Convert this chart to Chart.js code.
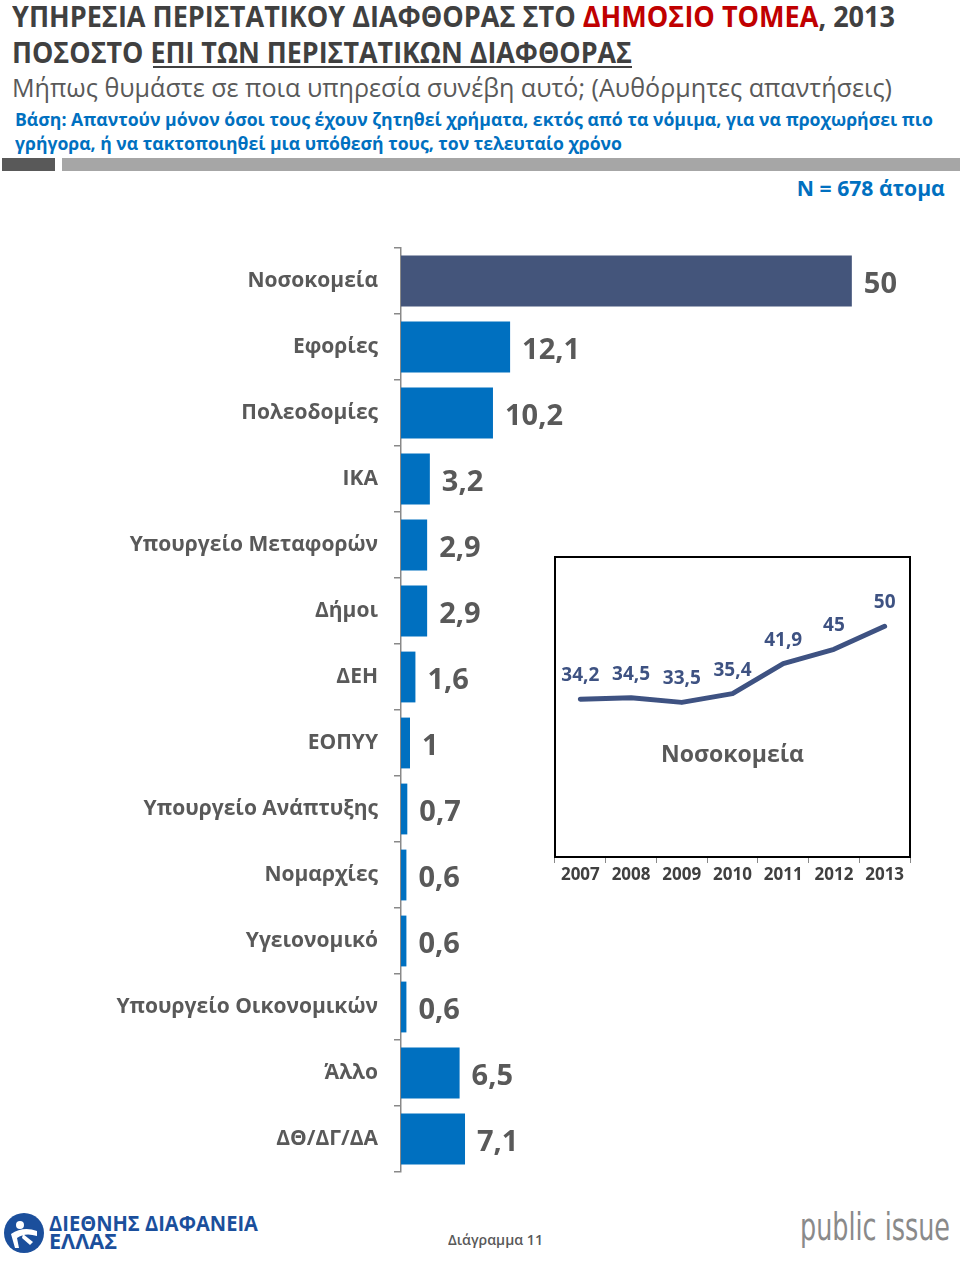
<!DOCTYPE html>
<html><head><meta charset="utf-8">
<script src="https://cdn.jsdelivr.net/npm/chart.js@4"></script>
<style>
body{margin:0;width:960px;height:1266px;position:relative;background:#fff;font-family:"Open Sans",sans-serif;overflow:hidden}
.t{position:absolute;white-space:nowrap;transform-origin:0 0;line-height:1}
.r{transform-origin:100% 0}
canvas{position:absolute}
</style></head><body>
<div class="t fit" data-w="883" style="left:12px;top:1px;font-size:29px;font-weight:700;color:#404040">ΥΠΗΡΕΣΙΑ ΠΕΡΙΣΤΑΤΙΚΟΥ ΔΙΑΦΘΟΡΑΣ ΣΤΟ <span style="color:#C00000">ΔΗΜΟΣΙΟ ΤΟΜΕΑ</span>, 2013</div>
<div class="t fit" data-w="620" style="left:12px;top:37px;font-size:29px;font-weight:700;color:#404040">ΠΟΣΟΣΤΟ ΕΠΙ ΤΩΝ ΠΕΡΙΣΤΑΤΙΚΩΝ ΔΙΑΦΘΟΡΑΣ</div>
<div style="position:absolute;left:153px;top:66px;width:479px;height:2px;background:#404040"></div>
<div class="t fit" data-w="880" style="left:12px;top:74px;font-size:26px;font-weight:400;color:#595959">Μήπως θυμάστε σε ποια υπηρεσία συνέβη αυτό; (Αυθόρμητες απαντήσεις)</div>
<div class="t fit" data-w="918" style="left:15px;top:111px;font-size:17px;font-weight:700;color:#0070C0">Βάση: Απαντούν μόνον όσοι τους έχουν ζητηθεί χρήματα, εκτός από τα νόμιμα, για να προχωρήσει πιο</div>
<div class="t fit" data-w="607" style="left:15px;top:135px;font-size:17px;font-weight:700;color:#0070C0">γρήγορα, ή να τακτοποιηθεί μια υπόθεσή τους, τον τελευταίο χρόνο</div>
<div style="position:absolute;left:2px;top:158px;width:53px;height:13px;background:#595959"></div>
<div style="position:absolute;left:62px;top:158px;width:898px;height:13px;background:#A6A6A6"></div>
<div class="t fit r" data-w="148" style="right:15px;top:178px;font-size:21px;font-weight:700;color:#0070C0">N = 678 άτομα</div>

<canvas id="bars" width="960" height="940" style="left:0;top:240px"></canvas>
<canvas id="line" width="400" height="350" style="left:540px;top:540px"></canvas>

<svg style="position:absolute;left:3px;top:1212px" width="42" height="42" viewBox="0 0 42 42">
<circle cx="21" cy="21" r="20" fill="#1B4F9C"/>
<circle cx="17" cy="13" r="4" fill="#fff"/>
<path d="M8 22 Q20 14 34 19 L34 24 Q22 20 14 26 L16 36 L12 36 Z" fill="#fff"/>
<path d="M20 22 L30 30 L27 33 L19 26 Z" fill="#fff"/>
</svg>
<div class="t fit" data-w="209" style="left:49px;top:1213px;font-size:21px;font-weight:700;color:#1B4F9C">ΔΙΕΘΝΗΣ ΔΙΑΦΑΝΕΙΑ</div>
<div class="t fit" data-w="68" style="left:49px;top:1231px;font-size:21px;font-weight:700;color:#1B4F9C">ΕΛΛΑΣ</div>
<div class="t fit" data-w="95" style="left:448px;top:1233px;font-size:14px;font-weight:600;color:#595959">Διάγραμμα 11</div>
<div class="t fit" data-w="150" style="left:800px;top:1209px;font-size:37px;font-weight:400;color:#8a8a8a;font-family:'Liberation Sans Narrow','DejaVu Sans Condensed',sans-serif">public issue</div>

<script>
// ---- Data ----
const categories = ["Νοσοκομεία","Εφορίες","Πολεοδομίες","ΙΚΑ","Υπουργείο Μεταφορών","Δήμοι","ΔΕΗ","ΕΟΠΥΥ","Υπουργείο Ανάπτυξης","Νομαρχίες","Υγειονομικό","Υπουργείο Οικονομικών","Άλλο","ΔΘ/ΔΓ/ΔΑ"];
const values = [50,12.1,10.2,3.2,2.9,2.9,1.6,1,0.7,0.6,0.6,0.6,6.5,7.1];
const years = ["2007","2008","2009","2010","2011","2012","2013"];
const hospitalTrend = [34.2,34.5,33.5,35.4,41.9,45,50];
const insetTitle = "Νοσοκομεία";

const fmt = v => String(v).replace('.', ',');

// fit header texts
document.querySelectorAll('.fit').forEach(el => {
  const w = el.getBoundingClientRect().width;
  const s = (+el.dataset.w) / w;
  el.style.transform = 'scaleX(' + s + ')';
});

const barLabels = {
  id: 'barLabels',
  afterDatasetsDraw(chart) {
    const ctx = chart.ctx;
    const meta = chart.getDatasetMeta(0);
    ctx.save();
    ctx.font = '700 29px "Open Sans"';
    ctx.fillStyle = '#595959';
    ctx.textAlign = 'left';
    ctx.textBaseline = 'alphabetic';
    meta.data.forEach((bar, i) => {
      ctx.fillText(fmt(chart.data.datasets[0].data[i]), bar.x + 12, bar.y + 12);
    });
    ctx.restore();
  }
};

new Chart(document.getElementById('bars'), {
  type: 'bar',
  data: {
    labels: categories,
    datasets: [{
      data: values,
      backgroundColor: values.map((v, i) => i === 0 ? '#44557B' : '#0070C0'),
      barPercentage: 0.77,
      categoryPercentage: 1
    }]
  },
  options: {
    indexAxis: 'y',
    responsive: false,
    animation: false,
    layout: { padding: { top: 8, bottom: 8, right: 18, left: 0 } },
    plugins: { legend: { display: false }, tooltip: { enabled: false } },
    scales: {
      x: { display: false, min: 0, max: 60 },
      y: {
        afterFit(s) { s.width = 401; s.paddingTop = 0; s.paddingBottom = 0; },
        grid: { display: true, drawOnChartArea: false, drawTicks: true, tickLength: 7, color: '#898989', lineWidth: 1.5, offset: true },
        border: { display: true, color: '#898989', width: 1.5 },
        ticks: { color: '#595959', font: { family: 'Open Sans', weight: '700', size: 21 }, padding: 16 }
      }
    }
  },
  plugins: [barLabels]
});

const insetDeco = {
  id: 'insetDeco',
  beforeDraw(chart) {
    const a = chart.chartArea, ctx = chart.ctx;
    ctx.save();
    ctx.fillStyle = '#595959';
    ctx.font = '700 23px "Open Sans"';
    ctx.textAlign = 'center';
    ctx.textBaseline = 'alphabetic';
    ctx.fillText(insetTitle, (a.left + a.right) / 2, 222);
    ctx.restore();
  },
  afterDraw(chart) {
    const a = chart.chartArea, ctx = chart.ctx;
    ctx.save();
    ctx.strokeStyle = '#000';
    ctx.lineWidth = 2;
    ctx.strokeRect(a.left, a.top, a.right - a.left, a.bottom - a.top);
    const meta = chart.getDatasetMeta(0);
    ctx.fillStyle = '#3E5282';
    ctx.font = '700 19px "Open Sans"';
    ctx.textAlign = 'center';
    ctx.textBaseline = 'alphabetic';
    meta.data.forEach((p, i) => {
      ctx.fillText(fmt(chart.data.datasets[0].data[i]), p.x, p.y - 18);
    });
    ctx.restore();
  }
};

new Chart(document.getElementById('line'), {
  type: 'line',
  data: {
    labels: years,
    datasets: [{
      data: hospitalTrend,
      borderColor: '#3E5282',
      borderWidth: 5,
      pointRadius: 0,
      tension: 0,
      borderCapStyle: 'round',
      borderJoinStyle: 'round'
    }]
  },
  options: {
    responsive: false,
    animation: false,
    layout: { padding: { top: 17, left: 15, right: 30, bottom: 0 } },
    plugins: { legend: { display: false }, tooltip: { enabled: false } },
    scales: {
      y: { display: false, min: 0, max: 65 },
      x: {
        offset: true,
        afterFit(s) { s.height = 33; },
        grid: { display: true, drawOnChartArea: false, drawTicks: true, tickLength: 6, color: '#898989', offset: true },
        border: { display: false },
        ticks: { color: '#404040', font: { family: 'Open Sans', weight: '700', size: 17 }, padding: 2, maxRotation: 0 }
      }
    }
  },
  plugins: [insetDeco]
});
</script>
</body></html>
